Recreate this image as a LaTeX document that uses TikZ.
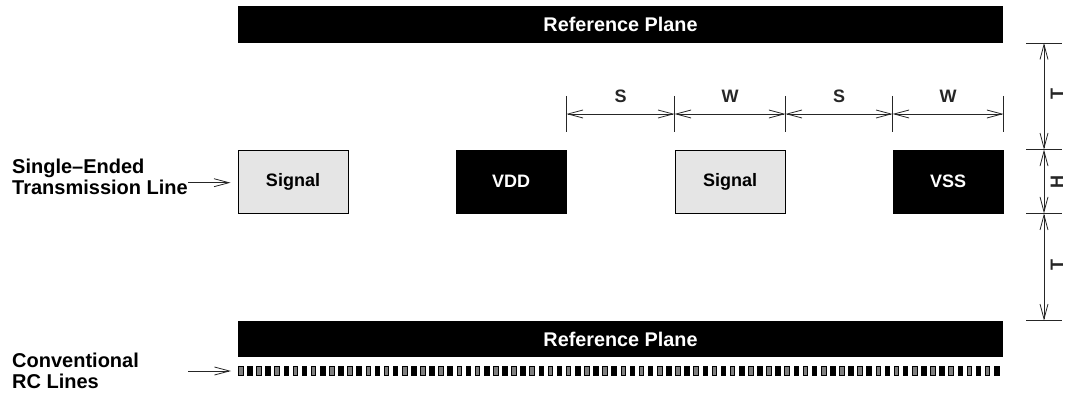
\documentclass[tikz,border=0pt]{standalone}
\usepackage{fontspec}
\setmainfont{Liberation Sans}
\usetikzlibrary{arrows.meta}

\tikzset{
  bigfont/.style={font=\bfseries\fontsize{20}{21}\selectfont},
  smallfont/.style={font=\bfseries\fontsize{18}{20}\selectfont},
  plane/.style={fill=black, draw=none, text=white,
    font=\bfseries\fontsize{19.8}{22}\selectfont,
    minimum width=765pt, minimum height=36.5pt, inner sep=0pt},
  linebox/.style={draw=black, line width=0.9pt, smallfont,
    minimum width=110pt, minimum height=63pt, inner sep=0pt},
  sigbox/.style={linebox, fill=black!10, text=black},
  pwrbox/.style={linebox, fill=black, text=white},
  barb/.style={line width=0.8pt, black!85},
  dimline/.style={barb, {Straight Barb[length=15pt,width=8pt]}-{Straight Barb[length=15pt,width=8pt]}},
  ptr/.style={barb, -{Straight Barb[length=15pt,width=8pt]}},
  tick/.style={line width=0.8pt, black!85},
  dimlabel/.style={smallfont, inner sep=0pt},
  rcwire/.style={draw=black, line width=0.6pt, minimum width=4.6pt, minimum height=9pt, inner sep=0pt},
}

\begin{document}
\begin{tikzpicture}[x=1pt, y=-1pt]
\useasboundingbox (0,0) rectangle (1065,393);

% reference planes
\node[plane] (topplane) at (620.5,24.5) {Reference Plane};
\node[plane] (botplane) at (620.5,339) {Reference Plane};

% conductor cross sections
\node[sigbox] (sigA) at (293,181.5) {Signal};
\node[pwrbox] (vdd)  at (511,181.5) {VDD};
\node[sigbox] (sigB) at (730,181.5) {Signal};
\node[pwrbox] (vss)  at (948,181.5) {VSS};

% horizontal spacing / width dimensions
\foreach \n/\a in {t1/vdd.east, t2/sigB.west, t3/sigB.east, t4/vss.west, t5/vss.east}{
  \coordinate (\n) at (\a |- 0,114);
  \draw[tick] (\a |- 0,96) -- (\a |- 0,132);
}
\draw[dimline] (t1) -- (t2) node[dimlabel, midway, yshift=18pt] (lS1) {S};
\draw[dimline] (t2) -- (t3) node[dimlabel, midway, yshift=18pt] (lW1) {W};
\draw[dimline] (t3) -- (t4) node[dimlabel, midway, yshift=18pt] (lS2) {S};
\draw[dimline] (t4) -- (t5) node[dimlabel, midway, yshift=18pt] (lW2) {W};

% vertical dimensions
\foreach \n/\a in {v1/topplane.south, v2/vss.north, v3/vss.south, v4/botplane.north}{
  \coordinate (\n) at (1044,0 |- \a);
  \draw[tick] (1026,0 |- \a) -- (1062,0 |- \a);
}
\draw[dimline] (v1) -- (v2) node[dimlabel, midway, xshift=13pt, yshift=2pt, rotate=90] (lT1) {T};
\draw[dimline] (v2) -- (v3) node[dimlabel, midway, xshift=13pt, rotate=90] (lH) {H};
\draw[dimline] (v3) -- (v4) node[dimlabel, midway, xshift=13pt, yshift=2pt, rotate=90] (lT2) {T};

% left-hand captions (anchored on the baseline of their last line)
\node[bigfont, align=left, anchor=base west, inner sep=0pt] (selabel) at (12,194)
  {Single--Ended\\Transmission Line};
\node[bigfont, align=left, anchor=base west, inner sep=0pt] (rclabel) at (12,388)
  {Conventional\\RC Lines};

% conventional RC wire array
\foreach \i in {0,...,83}{
  \pgfmathsetmacro{\xx}{240.6+\i*9.108}
  \ifodd\i
    \node[rcwire, fill=black] (rc\i) at (\xx,370.5) {};
  \else
    \node[rcwire, fill=black!50] (rc\i) at (\xx,370.5) {};
  \fi
}

% pointers
\coordinate (pA) at (188,182.7);
\coordinate (pB) at (188,371);
\draw[ptr, shorten >=7pt] (pA) -- (sigA.west |- pA);
\draw[ptr, shorten >=7pt] (pB) -- (rc0.west |- pB);
\end{tikzpicture}
\end{document}
